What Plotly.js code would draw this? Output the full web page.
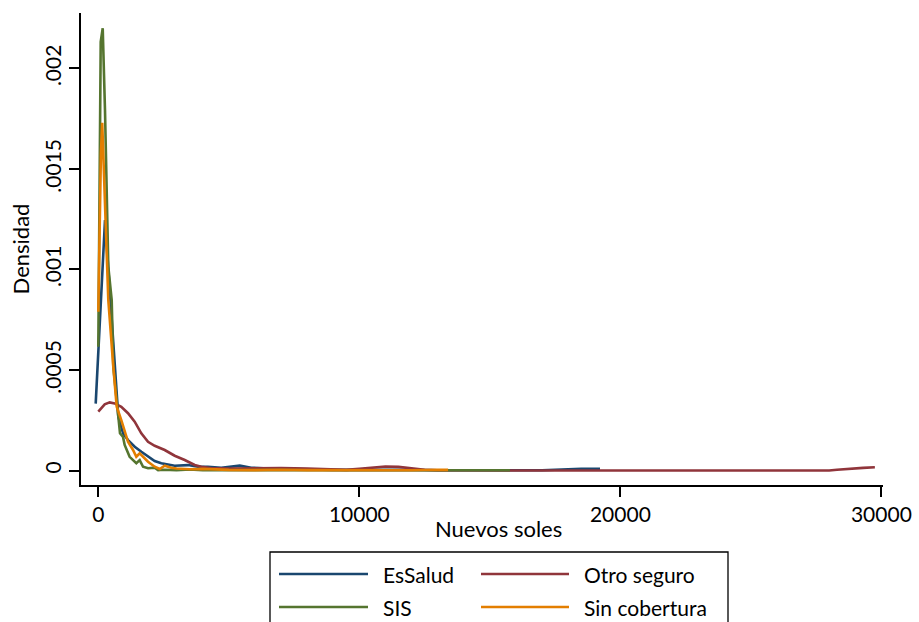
<!DOCTYPE html>
<html>
<head>
<meta charset="utf-8">
<script src="https://cdn.plot.ly/plotly-3.0.1.min.js"></script>
<style>html,body{margin:0;padding:0;background:#fff;}#chart{width:919px;height:622px;}</style>
</head>
<body>
<div id="chart"></div>
<script>
// ---- Data ----
const seriesNames = ["EsSalud", "Otro seguro", "SIS", "Sin cobertura"];
const seriesColors = ["#1a476f", "#90353b", "#55752f", "#e37e00"];

const essaludX = [-100, 257, 766, 950, 1140, 1395, 1650, 1904, 2160, 2413, 2925, 3435, 3820, 4200, 4710, 5420, 5860, 6500, 7000, 8000, 9000, 10000, 11000, 12000, 13000, 14000, 15000, 16000, 17000, 18000, 18500, 19220];
const essaludY = [0.000333, 0.001246, 0.000268, 0.000184, 0.000151, 0.000118, 0.000093, 0.000069, 0.000047, 0.000036, 0.000024, 0.000027, 0.000019, 0.000019, 0.000014, 0.000024, 0.000014, 0.000010, 0.000008, 0.000006, 0.000003, 0.000003, 0.000004, 0.000003, 0.000001, 0.000001, 0.000001, 0.000000, 0.000001, 0.000006, 0.000009, 0.000009];

const otroX = [0, 245, 437, 628, 881, 1138, 1394, 1647, 1904, 2161, 2544, 2927, 3310, 3693, 3946, 4300, 5000, 6000, 7000, 8000, 9000, 9500, 10000, 10500, 11000, 11500, 12000, 12500, 13000, 14000, 16000, 18000, 20000, 22000, 24000, 26000, 28000, 28300, 28800, 29300, 29750];
const otroY = [0.000293, 0.000329, 0.000339, 0.000334, 0.000317, 0.000285, 0.000243, 0.000185, 0.000143, 0.000123, 0.000102, 0.0000736, 0.0000522, 0.0000274, 0.0000189, 0.000012, 0.000010, 0.000012, 0.000012, 0.000010, 0.000004, 0.000003, 0.000008, 0.000014, 0.000020, 0.000018, 0.000011, 0.000004, 0.000001, 0.000000, 0.000000, 0.000000, 0.000000, 0.000000, 0.000000, 0.000000, 0.000000, 0.000004, 0.000010, 0.000013, 0.000016];

const sisX = [0, 92, 169, 256, 383, 513, 575, 755, 831, 947, 1010, 1200, 1330, 1456, 1586, 1714, 1906, 2160, 2290, 2500, 3000, 3500, 4000, 5000, 6000, 7000, 8000, 9000, 10000, 11000, 12000, 13000, 14000, 15000, 15770];
const sisY = [0.000616, 0.002133, 0.002200, 0.001793, 0.001014, 0.000848, 0.000516, 0.000260, 0.000185, 0.000167, 0.000127, 0.000068, 0.000052, 0.000036, 0.000052, 0.0000187, 0.000011, 0.000014, 0.000002, 0.000004, 0.000002, 0.000005, 0.000001, 0.000002, 0.000001, 0.000002, 0.000001, 0.000001, 0.000001, 0.000001, 0.000001, 0.000001, 0.000001, 0.000001, 0.000001];

const sinX = [0, 100, 150, 383, 575, 705, 881, 1010, 1138, 1330, 1456, 1586, 1714, 1904, 2160, 2352, 2544, 2797, 3000, 3500, 4000, 4500, 5000, 6000, 7000, 8000, 9000, 10000, 11000, 12000, 13000, 13400];
const sinY = [0.000790, 0.001578, 0.001730, 0.000848, 0.000516, 0.000317, 0.000251, 0.000193, 0.000143, 0.000102, 0.0000687, 0.0000856, 0.0000687, 0.0000438, 0.0000189, 0.0000075, 0.0000239, 0.000014, 0.000010, 0.000006, 0.000008, 0.000004, 0.000003, 0.000002, 0.000004, 0.000002, 0.000001, 0.000001, 0.000001, 0.000001, 0.000004, 0.000003];

const xTickVals = [0, 10000, 20000, 30000];
const xTickText = ["0", "10000", "20000", "30000"];
const yTickVals = [0, 0.0005, 0.001, 0.0015, 0.002];
const yTickText = ["0", ".0005", ".001", ".0015", ".002"];
const xTitle = "Nuevos soles";
const yTitle = "Densidad";

// ---- Layout geometry ----
const W = 919, H = 622;
const M = {l: 81, r: 36, t: 13, b: 137};
const FONT = "Lato, 'Open Sans', sans-serif";
const FS = 21;
const plotW = W - M.l - M.r, plotH = H - M.t - M.b;
const px2x = p => (p - M.l) / plotW;
const py2y = p => (H - M.b - p) / plotH;

const xs = [essaludX, otroX, sisX, sinX];
const ys = [essaludY, otroY, sisY, sinY];
const traces = seriesNames.map((n, i) => ({
  type: "scatter", mode: "lines", name: n, x: xs[i], y: ys[i],
  line: {color: seriesColors[i], width: 2.6}, showlegend: false, hoverinfo: "skip"
}));

// custom legend (box, line samples, labels) in paper coordinates
const legBox = {x0: 270, x1: 728, y0: 552, y1: 660};
const rowsY = [574, 607];
const colLine = [[279, 368], [481, 569]];
const colText = [381, 582];
const legendPos = [[0, 0], [0, 1], [1, 0], [1, 1]]; // [row, col] per series
const shapes = [{
  type: "rect", xref: "paper", yref: "paper",
  x0: px2x(legBox.x0), x1: px2x(legBox.x1), y0: py2y(legBox.y1), y1: py2y(legBox.y0),
  line: {color: "#000", width: 1.3}, fillcolor: "rgba(0,0,0,0)"
}];
const annotations = [];
seriesNames.forEach((n, i) => {
  const [r, c] = legendPos[i];
  shapes.push({type: "line", xref: "paper", yref: "paper",
    x0: px2x(colLine[c][0]), x1: px2x(colLine[c][1]), y0: py2y(rowsY[r]), y1: py2y(rowsY[r]),
    line: {color: seriesColors[i], width: 2.6}});
  annotations.push({xref: "paper", yref: "paper", x: px2x(colText[c]), y: py2y(rowsY[r]),
    xanchor: "left", yanchor: "middle", showarrow: false, text: n,
    font: {family: FONT, size: FS, color: "#000"}});
});
// x-axis title (centred as in the reference, slightly right of the plot centre)
annotations.push({xref: "paper", yref: "paper", x: px2x(498), y: py2y(528),
  xanchor: "center", yanchor: "middle", showarrow: false, text: xTitle,
  font: {family: FONT, size: FS + 1, color: "#000"}});

const layout = {
  width: W, height: H, margin: M,
  paper_bgcolor: "#fff", plot_bgcolor: "#fff",
  font: {family: FONT, size: FS, color: "#000"},
  showlegend: false,
  xaxis: {
    range: [-663, 30062], showgrid: false, zeroline: false,
    showline: true, linecolor: "#000", linewidth: 2,
    ticks: "outside", ticklen: 10, tickwidth: 2, tickcolor: "#000",
    tickmode: "array", tickvals: xTickVals, ticktext: xTickText,
    tickfont: {family: FONT, size: FS, color: "#000"}
  },
  yaxis: {
    range: [-0.0000721, 0.002276], showgrid: false, zeroline: false,
    showline: true, linecolor: "#000", linewidth: 2,
    ticks: "outside", ticklen: 10, tickwidth: 2, tickcolor: "#000",
    tickmode: "array", tickvals: yTickVals, ticktext: yTickText, tickangle: -90,
    tickfont: {family: FONT, size: FS, color: "#000"},
    title: {text: yTitle, font: {family: FONT, size: FS + 1, color: "#000"}, standoff: 4}
  },
  shapes: shapes, annotations: annotations
};

Plotly.newPlot("chart", traces, layout, {staticPlot: true, displayModeBar: false});
</script>
</body>
</html>
